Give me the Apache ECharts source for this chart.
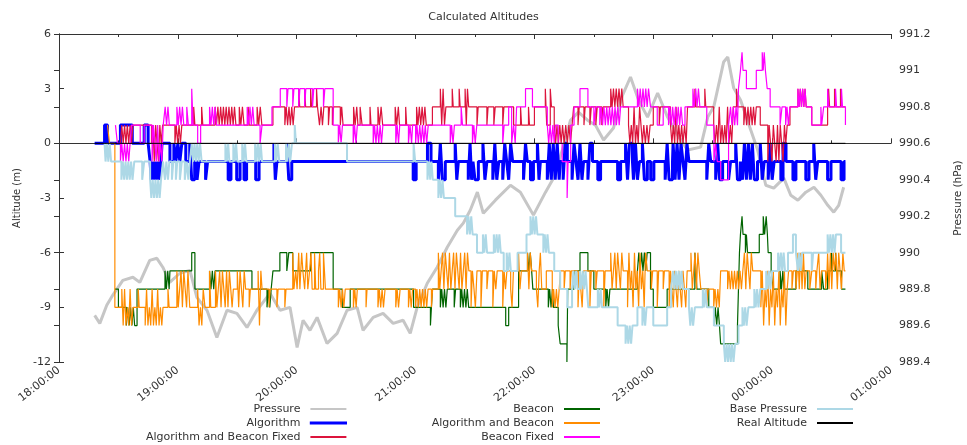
<!DOCTYPE html>
<html><head><meta charset="utf-8">
<script src="https://cdn.jsdelivr.net/npm/echarts@6/dist/echarts.min.js"></script>
<style>html,body{margin:0;padding:0;background:#fff}#c{width:967px;height:445px}</style>
</head><body><div id="c"></div>
<script>
// x values are minutes after 18:00
const tickLabels = ['18:00:00','19:00:00','20:00:00','21:00:00','22:00:00','23:00:00','00:00:00','01:00:00'];

const pressure = [[18,989.656],[20.6,989.612],[24.1,989.711],[27.1,989.766],[32.2,989.848],[37.3,989.865],[40.8,989.837],[45.8,989.958],[49.4,989.969],[52.4,989.92],[55.9,989.837],[61,989.887],[66.1,989.903],[69.6,989.755],[74.7,989.684],[79.7,989.535],[84.8,989.684],[89.8,989.667],[94.9,989.59],[99.9,989.684],[106.5,989.777],[111.6,989.684],[116.6,989.7],[120.2,989.48],[123.2,989.629],[126.7,989.574],[130.3,989.645],[135.3,989.502],[140.4,989.557],[145.4,989.684],[150.5,989.7],[153.5,989.574],[158.6,989.645],[163.6,989.667],[168.7,989.612],[173.7,989.629],[177.3,989.557],[180.8,989.7],[185.9,989.832],[190.9,989.92],[196,990.03],[201.1,990.123],[204.1,990.162],[207.6,990.233],[211.2,990.332],[214.2,990.216],[220.3,990.288],[227.9,990.37],[232.9,990.332],[239.5,990.206],[245.6,990.332],[249.6,990.409],[254.1,990.563],[258.2,990.727],[262.2,990.771],[266.8,990.727],[270.8,990.7],[274.9,990.618],[279.9,990.684],[284.5,990.865],[288.5,990.964],[292.6,990.837],[297.1,990.744],[302.2,990.876],[307.2,990.744],[312.3,990.645],[317.3,990.563],[323.9,990.579],[327.5,990.744],[330.5,990.799],[335.5,991.046],[337.6,991.074],[340.6,990.903],[344.1,990.837],[349.2,990.673],[352.7,990.563],[356.8,990.37],[360.8,990.354],[365.9,990.409],[369.4,990.315],[373,990.288],[377,990.332],[381.1,990.359],[384.6,990.315],[388.1,990.26],[391.1,990.222],[393.6,990.26],[396.1,990.359]];

const algorithm = [[18,0],[23,1],[24.5,0],[31,1],[37,0],[43,1],[45,0],[46,-1],[46.5,-2],[47,-1],[47.5,-2],[48,-1],[48.5,-2],[49,-1],[49.5,-2],[50,-1],[50.5,-2],[51.5,-1],[52,0],[56,-1],[58,0],[59,-1],[60,0],[61,-1],[62,0],[64,-1],[66,0],[67,-2],[68.5,-1],[69.7,-2],[70.7,-1],[74,-2],[75,-1],[85.4,-2],[86.8,-1],[89.7,-2],[91.4,-1],[93.4,-2],[94.7,-1],[99.3,-2],[101,-1],[108.5,0],[109.2,-2],[110,-1],[115,0],[116,-2],[117.5,-1],[178.8,-2],[180.3,-1],[186,0],[187.8,-1],
[191.5,-2],[192.5,0],[193.5,-2],[195,-1],[200,0],[200.8,-2],[201.6,-1],[206.6,-2],[207.5,0],[208.3,-2],[209,-1],[210,-2],[211.7,-1],[214,0],[215,-2],[216,-1],[219,-2],[220,0],[221,-2],[222,-1],[224,-2],[225,0],[226,-1],[227,-2],[228,0],[229,-1],[234.5,-2],[235.5,0],[236.4,-1],[238,-2],[239.5,-1],[241.5,0],[242.3,-2],[243,-1],[246.5,-2],[247.5,0],[248.5,-2],[249.5,0],[250.5,-2],[251.5,0],[252.5,-2],[253,-1],[254.5,-2],[255.5,0],[256.6,-1],[259,-2],[260,0],[261,-1],[262,-2],[263,0],[264,-2],[264.8,-1],[267,-2],[268,0],[269.3,-1],[272,-2],[273.4,-1],
[282,-2],[283.5,-1],[286,0],[287,-2],[288,0],[289.5,-1],[290,-2],[291,0],[292,-2],[293,-1],[294.5,0],[295.5,-2],[297,-1],[298.7,-2],[300.3,-1],[306,-2],[307,0],[308,-2],[309.7,-1],[310,0],[311,-2],[312,0],[313,-2],[314,0],[315,-1],[316,-2],[317,0],[318,-1],[327,-2],[328,0],[329,-1],[331.5,-2],[332.5,0],[333.5,-2],[335,-1],[338,-2],[339,-1],[341.6,0],[342.5,-2],[344,-1],[345,-2],[346,0],[347,-2],[348,0],[349,-2],[350,0],[351,-2],[352.6,-1],[354,0],[355,-2],[356,-1],[358,-2],[359,0],[360,-2],[361,-1],[364.4,-2],[365.5,0],[367,-1],[370.5,-2],[372,-1],[377,-2],[378.6,-1],[381,0],[382,-2],[383,-1],[388,-2],[389.7,-1],[394.8,-2],[396.3,-1],[397,-1]];

const algBeaconFixed = [[31,0],[31.7,1],[32.4,0],[33.1,1],[33.8,0],[34.5,1],[35.2,0],[35.9,1],[36.6,0],[37.3,1],[46.7,0],[47.4,1],[48.1,-1],[48.8,1],[49.5,0],[50.2,-1],[50.9,1],[51.6,0],[52.3,1],[58.5,0],[59.2,1],[59.9,0],[60.6,1],[61.3,0],[62,1],[68,2],[68.6,1],[72,2],[72.6,1],[78.8,2],[79.5,1],[80.2,2],[80.9,1],[81.6,2],[82.3,1],[83,2],[83.7,1],[84.4,2],[85.1,1],[85.8,2],[86.5,1],[87.2,2],[87.9,1],[88.6,2],[89.3,1],[91,2],[91.8,1],[92.6,2],[93.4,1],[95.5,2],[96,1],[100,2],[100.8,1],[101.6,2],[102.4,1],[108,2],[114,1],[114.7,2],[115.4,1],[116.1,2],[116.8,1],[117.5,2],[118.2,1],[118.9,2],[121,3],[121.5,2],[124,3],[124.5,2],[127,3],[127.5,2],[130,3],[130.5,2],[131.5,1],[132.3,2],[133,1],[133.7,2],[136,1],[136.6,2],[138,1],[138.6,2],
[142,1],[142.7,2],[143.4,1],[148.7,2],[149.5,1],[150.3,2],[150.9,1],[152,2],[153,1],[157,2],[157.5,1],[161,2],[161.8,1],[162.6,2],[163.4,1],[169.7,2],[170.5,1],[171.3,2],[171.9,1],[175,2],[175.5,1],[180.5,2],[181.2,1],[181.9,2],[182.6,1],[183.3,2],[184,1],[184.7,2],[185.4,1],[188.5,2],[192.5,3],[193.2,1],[193.9,3],[194.6,1],[195.3,2],[198.5,3],[199,2],[202,3],[202.5,2],[205,3],[205.6,1],[206.2,3],[206.8,2],[211,1],[211.6,2],[216,1],[216.6,2],[219.5,1],[220.2,2],[224,1],[224.6,2],[229.5,1],[233,2],[233.5,1],[237,2],[237.5,1],[240,2],[245.5,3],[246.2,1],[248,3],[248.6,2],
[250,1],[250.7,0],[251.4,1],[252.1,0],[252.8,1],[253.5,0],[254.2,1],[255,0],[255.8,1],[256.6,0],[257.4,1],[258.2,0],[259,1],[259.8,2],[262,1],[262.6,2],[265,1],[265.6,2],[268,1],[268.7,2],[271,1],[271.7,2],[274,1],[274.7,2],[278.5,3],[279.2,2],[279.9,3],[280.6,2],[281.3,3],[282,2],[282.7,3],[283.4,2],[284.1,3],[284.8,2],[287.5,1],[288.2,0],[288.9,1],[289.6,0],[290.3,2],[291,0],[291.7,1],[292.4,0],[293.1,2],[293.8,1],[294.5,0],[295.2,1],[296,0],[296.8,1],[297.6,0],[298.4,1],[300,2],[303,1],[303.6,2],
[308.7,1],[309.4,0],[310.1,1],[310.8,0],[311.5,2],[312.2,0],[312.9,1],[313.6,0],[314.3,1],[315,0],[315.8,1],[316.6,0],[317.3,2],[321,3],[321.5,2],[326,3],[326.5,2],[330.5,1],[331.2,0],[331.9,1],[332.6,0],[333.3,2],[334,0],[334.7,1],[335.4,0],[336.1,1],[336.8,0],[337.5,2],[338.2,0],[338.9,1],[339.6,0],[340.4,2],[342,3],[342.6,2],[345.7,1],[346.4,2],[347.1,1],[347.8,2],[348.5,1],[349.2,2],[349.9,1],[350.6,2],[351.3,1],[352,2],[354,1],[357.8,-1],[358.5,1],[359.2,0],[359.9,-1],[360.6,1],[361.3,0],[362,-1],[362.7,1],[363.4,-1],[364.1,1],[364.8,0],[365.5,-1],[366.2,1],[366.9,0],[367.6,1],[369,2],[373,3],[373.6,2],[374.2,3],[374.8,2],[375.4,3],[376,2],[376.6,3],[377.2,2],[380,1],[388,2],[388.5,3],[389,2],[391.5,3],[392,2],[394.5,3],[395,2],[397,2]];

const beacon = [[28.2,-8],[30,-9],[34,-10],[34.7,-9],[35.4,-10],[36.1,-9],[36.8,-10],[37.5,-9],[38.2,-10],[39.4,-8],[53.5,-7],[54.2,-8],[54.9,-7],[55.6,-8],[56,-7],[67,-6],[68.6,-8],[76,-7],[76.7,-8],[77.4,-7],[78.1,-8],[78.8,-7],[97.4,-8],[105,-9],[105.7,-8],[106.4,-9],[107.1,-8],[108,-7],[111.5,-6],[115,-7],[116,-6],[118,-7],[127,-6],[138.4,-8],[143,-9],[147,-8],[179,-9],[187.5,-10],[188.5,-8],[192.5,-9],[193.2,-8],[193.9,-9],[194.6,-8],[195.3,-9],[196,-8],[199.5,-9],[200.2,-8],[202.6,-9],[203.3,-8],[204,-9],[204.7,-8],[205.4,-9],[206.1,-8],[206.8,-9],[225.5,-10],[227,-9],[232,-7],[236.5,-6],[237.2,-7],[237.9,-6],[238.6,-7],[239.2,-8],[247,-9],[247.7,-8],[248.4,-9],[249.1,-8],[249.6,-9],[252,-10],[253,-11],[256.4,-12],[256.8,-8],[260,-7],[263,-6],[267,-7],[270,-8],[276,-9],[276.7,-8],[277.4,-9],[278.1,-8],[292,-7],[292.7,-6],[293.4,-7],[294.1,-6],[294.8,-7],[295.5,-6],[296.2,-7],[296.9,-6],[298.6,-8],[300,-9],[307,-8],[321,-6],[322,-8],[328,-9],[330.6,-10],[331.3,-9],[332,-10],[332.7,-9],[333.4,-10],[334,-11],[342.5,-10],[343,-8],[343.5,-6],[344,-5],[344.8,-4],[345.3,-5],[346.5,-6],[347,-5],[347.6,-6],[353.5,-5],[355.5,-4],[356.2,-5],[357,-4],[357.6,-5],[358,-6],[359.5,-7],[360.5,-8],[364,-7],[364.7,-8],[365.4,-7],[366,-8],[372,-7],[378,-8],[385,-7],[386,-8],[388,-7],[390,-6],[390.5,-7],[392,-6],[392.5,-7],[395,-8],[397,-8]];

const algBeacon = [[24.5,1],[25.5,0],[28.2,-9],[31.7,-8],[32.4,-10],[33.1,-8],[33.8,-10],[34.5,-9],[35.2,-10],[35.9,-8],[36.6,-10],[37.4,-9],[40,-8],[40.5,-9],[43.5,-10],[44.2,-8],[44.9,-10],[45.6,-9],[46.3,-10],[47,-8],[47.7,-10],[48.4,-9],[49.1,-10],[49.8,-8],[50.5,-10],[51.2,-9],[51.9,-10],[52.5,-9],[55,-8],[55.6,-9],[59.5,-7],[60.2,-9],[60.9,-8],[61.6,-7],[62.3,-9],[63,-7],[63.7,-8],[64.4,-9],[65.1,-7],[66,-9],[70,-8],[70.7,-10],[71.4,-9],[72.1,-10],[72.8,-8],[73.7,-9],[76,-7],[76.6,-9],[79,-7],[79.7,-9],[80.4,-8],[81.1,-7],[81.8,-9],[82.5,-7],[83.2,-8],[83.9,-9],[84.6,-7],[85.3,-9],[86,-7],[86.7,-8],[87.4,-9],[88,-8],[90,-7],[90.7,-9],[91.4,-7],[92.1,-8],[92.8,-9],[93.5,-7],[94.2,-8],[96,-9],[96.6,-8],[100.5,-7],[101.2,-10],[101.9,-7],[102.5,-8],[106,-9],[106.6,-8],[110,-9],[110.6,-8],[114,-9],[114.6,-8],
[118,-6],[118.6,-8],[119.5,-7],[120.2,-8],[121,-6],[121.6,-8],[122.5,-6],[123.1,-7],[124,-8],[125,-6],[125.6,-8],[126.5,-7],[127.2,-6],[127.8,-8],[129,-6],[129.6,-8],[131,-7],[131.6,-6],[132.2,-8],[133.5,-6],[134.5,-8],[141,-9],[141.7,-8],[142.4,-9],[143.1,-8],[143.8,-9],[144.5,-8],[148.6,-9],[149.3,-8],[150,-9],[150.6,-8],[155,-9],[155.5,-8],[161,-9],[161.7,-8],[162.4,-9],[163.1,-8],[163.8,-9],[164.6,-8],[170,-9],[170.7,-8],[171.4,-9],[172.2,-8],[176.4,-9],[177.1,-8],[177.8,-9],[178.5,-8],[180,-9],[180.7,-8],[181.4,-9],[182.1,-8],[182.8,-9],[183.5,-8],[184.2,-9],[184.9,-8],[185.6,-9],[186.3,-8],[188,-9],[188.6,-8],
[191.5,-6],[192.2,-8],[192.9,-7],[193.6,-6],[194.3,-8],[195,-6],[195.7,-7],[196.4,-8],[197.1,-6],[197.8,-8],[198.5,-7],[199.2,-6],[199.9,-8],[200.6,-6],[201.3,-7],[202,-8],[202.7,-6],[203.4,-8],[204.1,-7],[204.8,-6],[205.5,-8],[206.2,-6],[206.9,-7],[208,-9],[208.7,-7],[209.5,-8],[210.2,-9],[211,-7],[213,-9],[213.7,-7],[216,-8],[216.7,-7],[219,-9],[219.7,-7],[220.5,-8],[221.2,-7],[224,-9],[224.7,-7],[225.4,-8],[226.1,-7],[228,-8],[228.7,-9],[229.4,-7],[232,-6],[232.7,-8],[233.4,-7],[236.5,-6],[237.2,-8],[237.9,-6],[238.6,-7],[241,-8],[241.7,-9],[242.4,-7],[243,-6],[243.7,-8],[246,-7],[249,-9],[249.7,-8],[250.4,-9],[251.1,-8],[251.8,-9],[252.5,-8],[253.2,-7],[255,-8],[255.6,-7],[258,-8],[258.6,-7],[262,-9],[262.7,-7],[263.4,-8],[264.1,-9],[264.8,-7],[268,-9],[268.7,-7],[271,-8],[271.7,-7],[275,-9],[275.7,-7],
[278.5,-6],[279.2,-8],[279.9,-7],[280.6,-6],[281.3,-8],[282,-6],[282.7,-7],[283.4,-8],[284.1,-6],[284.8,-7],[287,-9],[287.7,-6],[288.4,-8],[289.1,-7],[289.8,-9],[290.5,-6],[291.2,-8],[291.9,-7],[292.6,-9],[293.3,-6],[294,-8],[294.7,-7],[295.4,-9],[296.1,-6],[297,-7],[299,-8],[299.7,-7],[302,-9],[302.7,-7],[305,-8],[305.6,-7],[308,-9],[308.7,-7],[309.4,-8],[310.1,-9],[310.8,-7],[311.5,-8],[312.2,-9],[312.9,-7],[313.6,-8],[314.3,-9],[315,-7],[315.7,-8],[316.4,-9],[317.1,-7],[319,-6],[319.7,-8],[320.4,-7],[321.1,-6],[321.8,-8],[322.5,-6],[323.2,-7],[324,-8],[327,-9],[327.7,-8],[330.5,-9],[331.2,-8],[331.9,-9],[332.6,-8],[333.3,-9],[334,-7],[337.5,-8],[338.2,-7],[338.9,-8],[339.6,-7],[340.3,-8],[341,-7],[341.7,-8],[342.4,-7],[343.1,-8],[343.8,-7],[344.5,-8],[345.2,-7],[346,-6],[346.7,-8],[347.4,-6],[348.1,-7],[348.8,-8],[349.5,-6],[350.2,-7],
[354.3,-9],[355,-7],[355.7,-10],[356.4,-8],[357.1,-9],[357.8,-7],[358.5,-10],[359.2,-8],[359.9,-9],[360.6,-7],[361.3,-10],[362,-8],[362.7,-9],[363.4,-7],[364.1,-10],[364.8,-8],[365.5,-9],[366.2,-7],[366.9,-10],[367.6,-8],[368.3,-7],[370,-8],[370.7,-7],[372,-8],[372.7,-7],[373,-6],[373.7,-8],[374.4,-6],[375.1,-8],[375.8,-6],[376.5,-8],[377.2,-7],[379,-8],[380,-7],[382,-8],[382.6,-7],[383.5,-6],[384.2,-8],[384.9,-7],[387,-8],[387.7,-7],[388,-6],[388.7,-8],[389.4,-6],[390.1,-8],[390.8,-6],[391.5,-7],[392.2,-6],[392.9,-8],[393.6,-6],[394.3,-7],[395,-8],[395.7,-6],[396.4,-7],[397,-7]];

const beaconFixed = [[28.5,1],[29.5,0],[31,-1],[31.7,0],[32.4,-1],[33.1,0],[33.8,-1],[34.5,0],[35.2,-1],[35.9,0],[36.6,1],[41,0],[43,1],[47,-1],[47.7,1],[48.4,0],[49.1,-1],[49.8,1],[50.5,-1],[51.2,0],[51.9,-1],[52.6,1],[53.6,2],[54.3,1],[55,2],[55.7,1],[59.5,2],[60.2,1],[60.9,2],[61.6,1],[62.3,2],[63,1],[64.5,2],[65.3,1],[67,3],[67.7,1],[70,0],[71.5,1],[76,2],[76.7,1],[77.4,2],[78.1,1],[78.8,2],[79.5,1],[95,2],[95.7,1],[96.4,2],[97.1,1],[97.8,2],[98.5,1],[101.5,0],[102.5,1],[107.5,2],[111.7,3],[115,2],[115.6,3],[118,2],[118.6,3],[121,2],[121.6,3],[124,2],[124.6,3],[128,2],[128.6,3],[133.5,2],[134.2,3],[138.4,1],
[141,0],[141.7,1],[142.4,0],[143.1,1],[148.5,0],[149.2,1],[149.9,0],[150.6,1],[158.6,0],[159.3,1],[160,0],[160.7,1],[161.4,0],[162.1,1],[162.8,0],[163.5,1],[170,0],[170.7,1],[171.4,0],[172,1],[176.4,0],[177.2,1],[178,0],[178.5,1],[180,0],[180.7,1],[181.4,0],[182.1,1],[182.8,0],[183.5,1],[184.2,0],[184.9,1],[185.6,0],[186.4,1],[197.5,0],[198.2,1],[198.9,0],[199.6,1],[203,2],[203.7,1],[208.7,0],[209.4,1],[210.1,0],[210.9,1],[224,0],[224.7,1],[227,2],[228.5,0],[229.5,1],[230.3,0],[231,2],[235.5,3],[239,2],[246.5,1],[247.2,0],[247.9,1],[248.6,0],[249.3,1],[250,0],[250.6,1],[252,0],[254,-1],[256.5,-3],[257,-1],[258.3,1],[260,2],[263,3],[267,2],[270,1],[271,2],
[273,1],[273.7,2],[274.4,1],[275.1,2],[275.8,1],[276.5,2],[277.2,1],[277.9,2],[278.6,1],[279.3,2],[280,1],[280.7,2],[281.4,1],[282.1,2],[282.8,1],[283.5,2],[292,3],[292.7,2],[293.4,3],[294.1,2],[294.8,3],[295.5,2],[296.2,3],[296.9,2],[297.6,3],[298.6,2],[302,1],[305,2],[307.7,1],[308.4,2],[309.1,1],[309.8,2],[310.5,1],[311.2,2],[311.9,1],[312.6,2],[313.3,1],[314,2],[314.8,1],[316,2],[320,3],[320.7,2],[321.4,3],[322.1,2],[322.8,3],[323.5,2],[327,1],[330.6,-1],[331.5,0],[332.3,-1],[334,-2],[338,1],[339,2],[339.7,1],[340.4,2],[341.1,1],[341.8,2],[342.5,1],[343,3],[344,4],[344.8,5],[345.3,4],[347,3],[352,4],[355,5],[355.5,4],[356,5],[356.6,4],[357.5,3],[359,2],[364,1],[365,2],[366.8,1],[367.5,2],[368.2,1],[369,2],[373,3],[373.6,2],[374.2,3],[374.8,2],[375.4,3],[376,2],[376.6,3],[377.2,2],[380,1],[384.6,2],[385,1],[386,2],[388,3],[388.6,2],[392,3],[392.5,2],[395,3],[395.5,2],[397,1]];

const basePressure = [[23,0],[23.5,-1],[24.2,0],[24.9,-1],[25.6,0],[26.3,-1],[31.5,-2],[32.2,-1],[32.9,-2],[33.6,-1],[34.3,-2],[35,-1],[35.7,-2],[36.4,-1],[37.1,-2],[38,-1],[42,-2],[43,-1],[46,-2],[46.6,-3],[47.3,-2],[48,-3],[48.7,-2],[49.4,-3],[50.1,-2],[50.8,-3],[51.5,-2],[52.5,-1],[53.5,-2],[54.2,-1],[55,-2],[55.7,-1],[57,-2],[57.7,-1],[59,-2],[59.7,-1],[61,-2],[62,-1],[63.5,-2],[64.5,-1],[65.3,-2],[66,-1],[67,0],[67.7,-1],[68.4,0],[69.1,-1],[69.8,0],[70.5,-1],[71.2,0],[72,-1],[84,0],[84.7,-1],[85.4,0],[86,-1],[88,0],[88.7,-1],[89.4,0],[90,-1],[92.5,0],[93.2,-1],[93.9,0],[94.6,-1],[99,0],[99.7,-1],[100.4,0],[101.1,-1],[101.8,0],[102.5,-1],[109,0],[109.7,-1],[110.4,0],[111.2,-1],[114.6,0],[115.3,-1],[116,0],[116.7,-1],[117.6,0],[119,1],[119.6,0],[145.4,-1],[179,0],[179.8,-1],[186,-2],[186.7,-1],[187.4,-2],[188,-1],[188.7,-2],
[191.5,-3],[192.2,-2],[192.9,-3],[193.6,-2],[194.3,-3],[200,-4],[206,-5],[206.7,-4],[207.4,-5],[208.1,-4],[208.8,-5],[211,-6],[214,-5],[214.7,-6],[215.4,-5],[216.1,-6],[219.5,-5],[220.2,-6],[220.9,-5],[221.6,-6],[222.3,-5],[223,-6],[224.5,-7],[226,-6],[226.7,-7],[227.4,-6],[228.1,-7],[231.5,-6],[236,-5],[238,-4],[238.7,-5],[239.4,-4],[240.1,-5],[240.8,-4],[241.5,-5],[244.5,-6],[245.2,-5],[245.9,-6],[246.6,-5],[247.3,-6],[250,-7],[253,-8],[256.6,-9],[259,-8],[259.7,-7],[260.4,-8],[261.1,-7],[261.8,-8],[263,-7],[263.7,-8],[264.4,-7],[265.1,-8],[265.8,-7],[266.5,-8],[267.2,-9],[272,-8],[272.7,-9],[273.4,-8],[274.1,-9],[282,-10],[286,-11],[286.7,-10],[287.4,-11],[288.1,-10],[288.8,-11],[289.5,-10],[292,-9],[294.5,-10],[295.2,-9],[295.9,-10],[296.6,-9],
[300,-10],[307,-9],[309,-8],[310,-7],[310.7,-8],[311.4,-7],[312.1,-8],[312.8,-7],[313.5,-8],[314.2,-7],[315,-8],[318,-9],[318.7,-10],[319.4,-9],[320.1,-10],[321,-9],[325,-8],[325.7,-9],[326.4,-8],[327.1,-9],[330.6,-10],[335.6,-11],[336.3,-12],[337,-11],[337.7,-12],[338.4,-11],[339.1,-12],[339.8,-11],[340.5,-12],[341.3,-11],[343,-10],[345,-9],[345.7,-10],[346.4,-9],[347.1,-10],[348,-9],[351,-8],[351.7,-9],[352.4,-8],[353.1,-9],[354,-8],[357,-7],[357.7,-8],[358.4,-7],[359.1,-8],[360,-7],[363,-6],[363.7,-7],[364.4,-6],[365.1,-7],[365.8,-6],[366.5,-7],[368,-6],[370.5,-5],[372,-6],[373,-7],[373.7,-6],[374.4,-7],[375.1,-6],[380,-7],[380.7,-6],[388,-5],[388.7,-6],[389.4,-5],[390.1,-6],[390.8,-5],[391.5,-6],[392.2,-5],[394.8,-6],[397,-6]];

const realAltitude = [[18,0],[397,0]];

const FONT = 'DejaVu Sans';
const TXT = '#333';

function stepLine(name, data, color, width, yIdx) {
  return {name, type:'line', step:'end', data, yAxisIndex: yIdx||0, symbol:'none', showSymbol:false,
    lineStyle:{color, width}, itemStyle:{color}, emphasis:{disabled:true}, animation:false};
}

const chart = echarts.init(document.getElementById('c'), null, {renderer:'canvas'});
const legendBase = {orient:'vertical', align:'right', icon:'rect', itemWidth:36, itemHeight:2, itemGap:0, top:402, padding:0, selectedMode:false,
  textStyle:{fontFamily:FONT, fontSize:11, lineHeight:14, color:TXT, padding:[0,5,0,0]}};
chart.setOption({
  animation:false,
  title:{text:'Calculated Altitudes', left:'center', top:7, textStyle:{fontFamily:FONT, fontSize:11, fontWeight:'normal', color:TXT}},
  legend:[
    Object.assign({}, legendBase, {right:620, data:['Pressure',{name:'Algorithm', itemStyle:{borderColor:'#0000ff', borderWidth:1.2}},'Algorithm and Beacon Fixed']}),
    Object.assign({}, legendBase, {right:367, data:['Beacon','Algorithm and Beacon','Beacon Fixed']}),
    Object.assign({}, legendBase, {right:114, data:['Base Pressure','Real Altitude']})
  ],
  grid:{left:59, right:76, top:34, bottom:83, containLabel:false, outerBoundsMode:'none'},
  xAxis:[{
    type:'value', min:0, max:420, interval:60,
    axisLine:{show:true, lineStyle:{color:'#333'}},
    axisTick:{show:true, inside:true, length:5, lineStyle:{color:'#333'}},
    minorTick:{show:true, splitNumber:2, length:3, lineStyle:{color:'#333'}},
    splitLine:{show:false},
    axisLabel:{rotate:38, margin:7, fontFamily:FONT, fontSize:11, color:TXT, formatter:v=>tickLabels[Math.round(v/60)]||''}
  },{
    type:'value', position:'top', min:0, max:420, interval:60,
    axisLine:{show:true, lineStyle:{color:'#333'}},
    axisTick:{show:true, inside:true, length:5, lineStyle:{color:'#333'}},
    minorTick:{show:true, splitNumber:2, length:3, lineStyle:{color:'#333'}},
    splitLine:{show:false}, axisLabel:{show:false}
  }],
  yAxis:[{
    type:'value', position:'left', min:-12, max:6, interval:3,
    name:'Altitude (m)', nameLocation:'middle', nameRotate:90, nameGap:36,
    nameTextStyle:{fontFamily:FONT, fontSize:10, color:TXT},
    axisLine:{show:true, lineStyle:{color:'#333'}},
    axisTick:{show:true, inside:true, length:5, lineStyle:{color:'#333'}},
    splitLine:{show:false},
    axisLabel:{fontFamily:FONT, fontSize:11, color:TXT, margin:8}
  },{
    type:'value', position:'right', min:989.4, max:991.2, interval:0.2,
    name:'Pressure (hPa)', nameLocation:'middle', nameRotate:90, nameGap:62,
    nameTextStyle:{fontFamily:FONT, fontSize:10.5, color:TXT},
    axisLine:{show:true, lineStyle:{color:'#333'}},
    axisTick:{show:true, inside:true, length:5, lineStyle:{color:'#333'}},
    splitLine:{show:false},
    axisLabel:{fontFamily:FONT, fontSize:11, color:TXT, margin:8, formatter:v=>String(parseFloat(v.toFixed(1)))}
  }],
  series:[
    Object.assign(stepLine('Pressure', pressure, '#c6c6c6', 3, 1), {step:false}),
    stepLine('Algorithm', algorithm, '#0000ff', 3),
    stepLine('Algorithm and Beacon Fixed', algBeaconFixed, '#dc143c', 1.2),
    stepLine('Beacon', beacon, '#006400', 1.2),
    stepLine('Algorithm and Beacon', algBeacon, '#ff8c00', 1.2),
    stepLine('Beacon Fixed', beaconFixed, '#ff00ff', 1.2),
    stepLine('Base Pressure', basePressure, '#add8e6', 2),
    stepLine('Real Altitude', realAltitude, '#000000', 1)
  ]
});
</script>
</body></html>
